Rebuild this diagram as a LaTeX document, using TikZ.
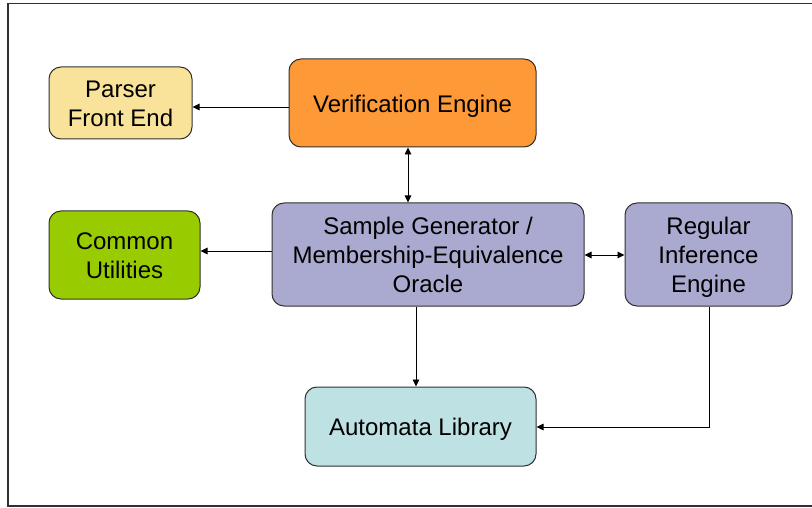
\documentclass[tikz,border=0pt]{standalone}
\usepackage{fontspec}
\setmainfont{Liberation Sans}
\usetikzlibrary{arrows.meta}
\definecolor{pfeyellow}{HTML}{F9E29A}
\definecolor{verorange}{HTML}{FD9A37}
\definecolor{utilgreen}{HTML}{99CC00}
\definecolor{corelav}{HTML}{AAA9CF}
\definecolor{autocyan}{HTML}{BEE1E3}
\definecolor{edge}{HTML}{303030}
% invisible struts fixing the height of the first line and the depth of the last
\newcommand\topstrut{\rule{0pt}{24.8pt}}
\newcommand\botstrut{\rule[-6pt]{0pt}{6pt}}
\tikzset{
  block/.style={draw=edge, line width=1pt, rounded corners=12pt, inner sep=0pt,
    align=center, font=\fontsize{24}{29}\selectfont,
    execute at end node=\botstrut},
  arr/.style={line width=0.9pt, -{Triangle[length=7pt,width=6.5pt]}},
  biarr/.style={line width=0.9pt, {Triangle[length=7pt,width=6.5pt]}-{Triangle[length=7pt,width=6.5pt]}},
}
\begin{document}
\begin{tikzpicture}[x=1pt,y=-1pt]
  \useasboundingbox (0,0) rectangle (812,508);
  % outer frame (open on the right)
  \draw[edge, line width=1.6pt] (812,3.5) -- (8,3.5) -- (8,506) -- (812,506);

  \node[block, fill=pfeyellow, minimum width=143pt, minimum height=72pt] (pfe) at (120.5,103) {\topstrut Parser\\Front End};
  \node[block, fill=verorange, minimum width=247pt, minimum height=88pt] (ver) at (412.5,103) {\topstrut Verification Engine};
  \node[block, fill=utilgreen, minimum width=151pt, minimum height=88pt] (util) at (124.5,255) {\topstrut Common\\Utilities};
  \node[block, fill=corelav, minimum width=312pt, minimum height=103pt] (sg) at (428,254.5) {\topstrut Sample Generator /\\Membership-Equivalence\\Oracle};
  \node[block, fill=corelav, minimum width=167pt, minimum height=103pt] (rie) at (708.5,254.5) {\topstrut Regular\\Inference\\Engine};
  \node[block, fill=autocyan, minimum width=231pt, minimum height=79pt] (al) at (420.5,426.5) {\topstrut Automata Library};

  \draw[arr] (ver.west |- 0,107) -- (pfe.east |- 0,107);
  \draw[biarr] (ver.south -| 408,0) -- (sg.north -| 408,0);
  \draw[arr] (sg.west |- 0,251) -- (util.east |- 0,251);
  \draw[biarr] (sg.east |- 0,255) -- (rie.west |- 0,255);
  \draw[arr] (sg.south -| 416,0) -- (al.north -| 416,0);
  \draw[arr] (rie.south -| 709,0) -- (709,427) -- (al.east |- 0,427);
\end{tikzpicture}
\end{document}
